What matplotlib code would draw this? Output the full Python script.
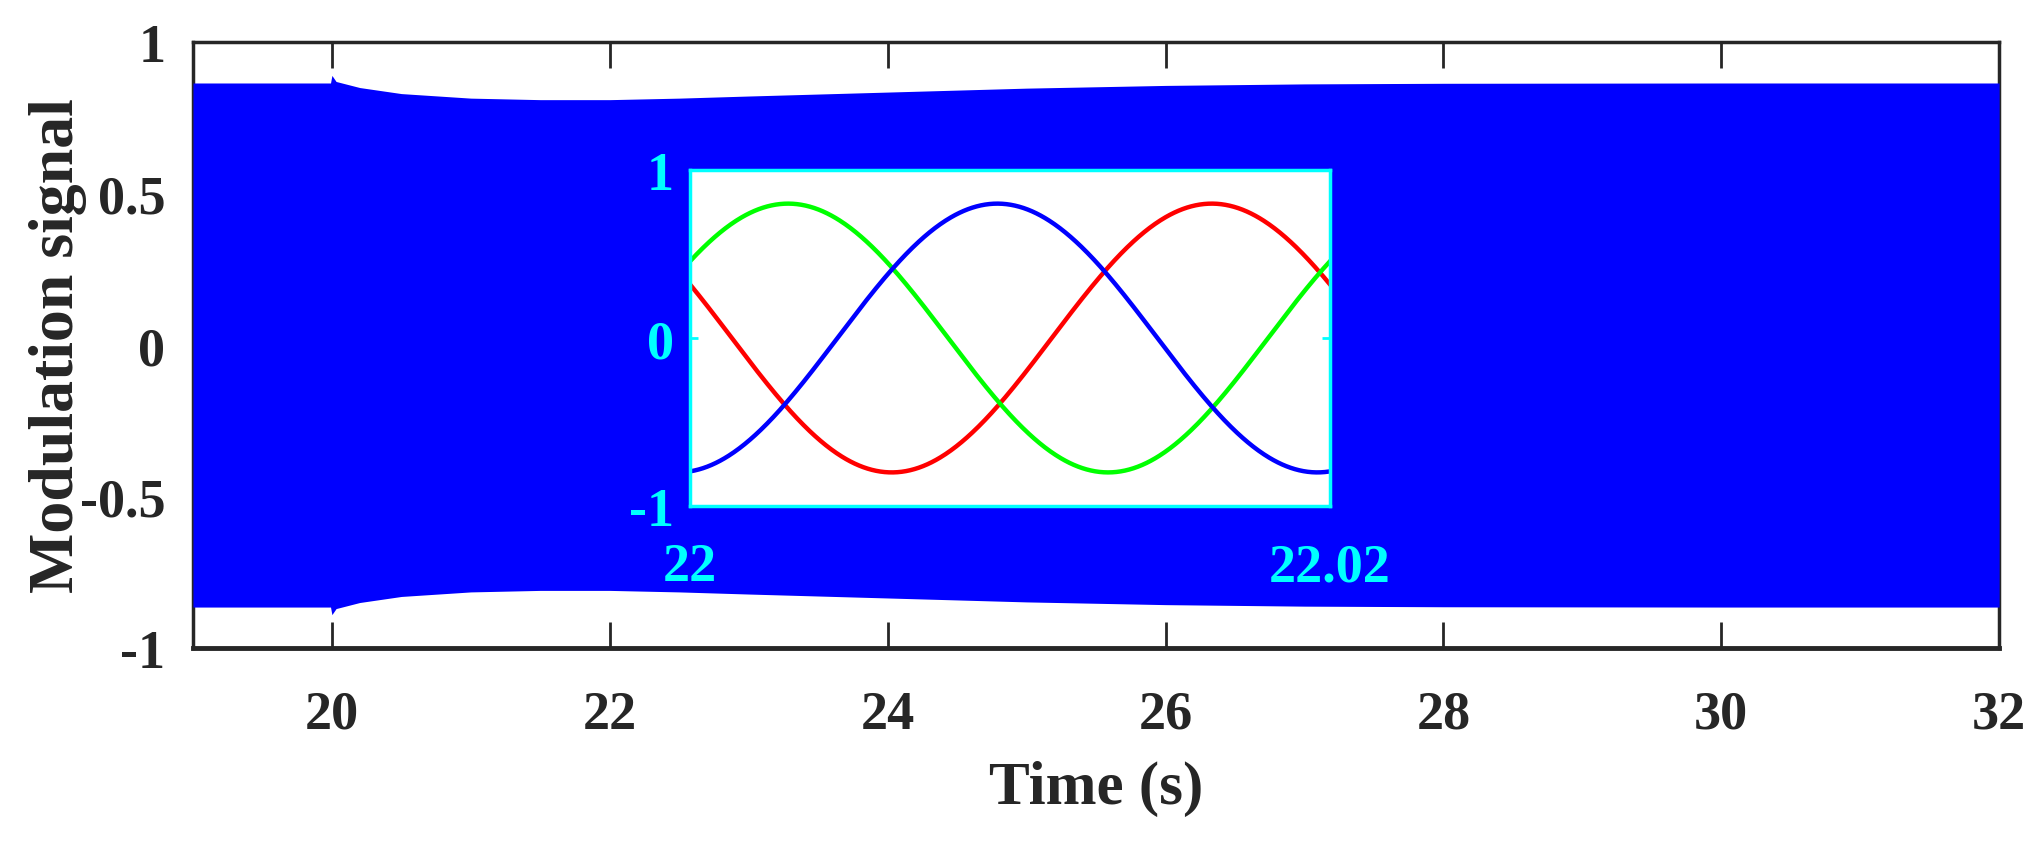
import numpy as np
import matplotlib
matplotlib.use('Agg')
import matplotlib.pyplot as plt

plt.rcParams['font.family'] = ['Liberation Serif', 'DejaVu Serif']
plt.rcParams['font.weight'] = 'bold'

# envelope of the modulation signal (main view)
t_env = [19.0, 19.99, 20.0, 20.03, 20.2, 20.5, 21.0, 21.5, 22.0, 22.5,
         23.0, 24.0, 25.0, 26.0, 27.0, 28.0, 30.0, 32.0]
upper = [0.865, 0.865, 0.89, 0.87, 0.85, 0.83, 0.815, 0.81, 0.81, 0.815,
         0.822, 0.835, 0.848, 0.857, 0.862, 0.864, 0.865, 0.865]
lower = [-v for v in upper]

# zoomed three-phase window 22 .. 22.02 s
t_zoom = (22.0, 22.02)
amp = 0.8
freq = 50.0                 # Hz
peak_frac = {'red': 0.815, 'blue': 0.48, 'green': 0.153}   # peak position inside the window
phase_colors = {'red': '#FF0000', 'green': '#00FF00', 'blue': '#0000FF'}

x_ticks = [20, 22, 24, 26, 28, 30, 32]
y_ticks = [-1, -0.5, 0, 0.5, 1]
y_ticklabels = ['-1', '-0.5', '0', '0.5', '1']

fig = plt.figure(figsize=(20.42, 8.45), dpi=100)
ax = fig.add_axes([0.0945, 0.232, 0.8845, 0.717])

ax.fill_between(t_env, lower, upper, color='#0000FF', linewidth=0, zorder=3)
ax.set_xlim(19, 32)
ax.set_ylim(-1, 1)
ax.set_xticks(x_ticks)
ax.set_xticklabels([str(v) for v in x_ticks])
ax.set_yticks(y_ticks)
ax.set_yticklabels(y_ticklabels)
ax.tick_params(direction='in', length=19, width=2, top=True, right=True,
               labelsize=39, colors='#262626')
ax.tick_params(axis='x', pad=30)
ax.tick_params(axis='y', pad=20)
for s in ax.spines.values():
    s.set_linewidth(2.5)
    s.set_color('#262626')
ax.spines['bottom'].set_linewidth(3.5)
ax.set_xlabel('Time (s)', fontsize=44, fontweight='bold', color='#262626')
ax.set_ylabel('Modulation signal', fontsize=46, fontweight='bold', color='#262626', va='center')
ax.xaxis.set_label_coords(0.5, -0.185)
ax.yaxis.set_label_coords(-0.075, 0.5)

# inset
ins = fig.add_axes([0.338, 0.40, 0.3134, 0.3976])
tt = np.linspace(t_zoom[0], t_zoom[1], 600)
frac = (tt - t_zoom[0]) * freq
for c in ['red', 'green', 'blue']:
    ins.plot(tt, amp * np.cos(2 * np.pi * (frac - peak_frac[c])),
             color=phase_colors[c], lw=3.2)
ins.set_xlim(*t_zoom)
ins.set_ylim(-1, 1)
ins.set_xticks([22, 22.02])
ins.set_xticklabels(['22', '22.02'])
ins.set_yticks([-1, 0, 1])
ins.set_yticklabels(['-1', '0', '1'])
ins.tick_params(direction='in', length=6, width=2, colors='#00FFFF', right=True, top=True,
                labelsize=39)
ins.tick_params(axis='x', pad=26)
ins.tick_params(axis='y', pad=12)
for s in ins.spines.values():
    s.set_linewidth(2.5)
    s.set_color('#00FFFF')

fig.savefig('out.png', dpi=100)
